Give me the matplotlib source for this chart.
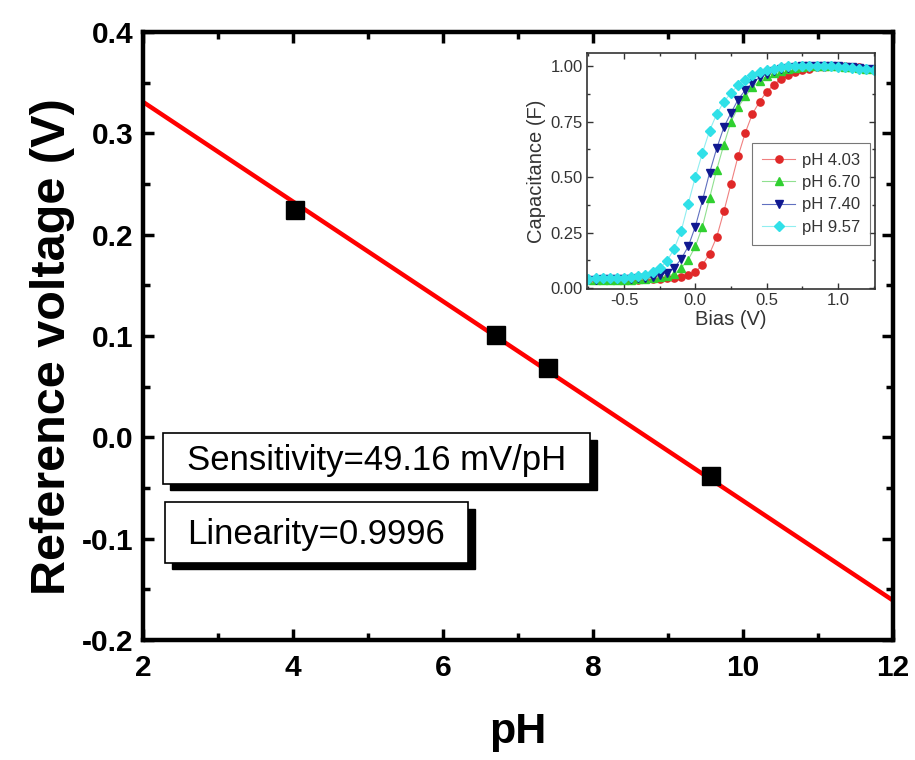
import matplotlib
matplotlib.use("Agg")
import matplotlib.pyplot as plt
from matplotlib.patches import Rectangle
from matplotlib.ticker import MultipleLocator, FormatStrFormatter

plt.rcParams['font.family'] = ['Liberation Sans', 'DejaVu Sans']
plt.rcParams['axes.unicode_minus'] = False

# ---- main data ----
ph_values = [4.03, 6.70, 7.40, 9.57]
ref_voltage = [0.224, 0.101, 0.068, -0.038]
fit_ph = [2.0, 12.0]
fit_voltage = [0.331, -0.161]

# ---- inset data ----
bias = [-0.75, -0.70, -0.65, -0.60, -0.55, -0.50, -0.45, -0.40, -0.35, -0.30,
        -0.25, -0.20, -0.15, -0.10, -0.05, 0.00, 0.05, 0.10, 0.15, 0.20,
        0.25, 0.30, 0.35, 0.40, 0.45, 0.50, 0.55, 0.60, 0.65, 0.70,
        0.75, 0.80, 0.85, 0.90, 0.95, 1.00, 1.05, 1.10, 1.15, 1.20, 1.25]
cap_403 = [0.035, 0.035, 0.036, 0.036, 0.037, 0.037, 0.038, 0.038, 0.039, 0.040,
           0.041, 0.043, 0.046, 0.050, 0.058, 0.072, 0.104, 0.155, 0.230, 0.345,
           0.470, 0.595, 0.700, 0.785, 0.840, 0.885, 0.917, 0.943, 0.962, 0.975,
           0.985, 0.990, 0.995, 0.998, 1.000, 1.000, 1.000, 0.998, 0.995, 0.990, 0.985]
cap_670 = [0.035, 0.035, 0.036, 0.036, 0.037, 0.037, 0.038, 0.039, 0.040, 0.043,
           0.048, 0.055, 0.062, 0.090, 0.127, 0.187, 0.277, 0.406, 0.534, 0.647,
           0.750, 0.815, 0.865, 0.905, 0.935, 0.955, 0.970, 0.980, 0.988, 0.993,
           0.997, 1.000, 1.000, 1.000, 1.000, 1.000, 0.998, 0.996, 0.993, 0.990, 0.987]
cap_740 = [0.038, 0.038, 0.039, 0.039, 0.040, 0.040, 0.041, 0.043, 0.045, 0.050,
           0.057, 0.068, 0.090, 0.130, 0.187, 0.277, 0.395, 0.520, 0.630, 0.725,
           0.790, 0.850, 0.893, 0.925, 0.950, 0.966, 0.978, 0.987, 0.993, 0.997,
           1.000, 1.000, 1.000, 1.000, 1.000, 1.000, 0.998, 0.996, 0.993, 0.990, 0.987]
cap_957 = [0.042, 0.043, 0.044, 0.045, 0.046, 0.047, 0.049, 0.052, 0.060, 0.072,
           0.090, 0.120, 0.175, 0.255, 0.380, 0.500, 0.610, 0.710, 0.785, 0.840,
           0.880, 0.915, 0.940, 0.960, 0.975, 0.985, 0.990, 0.995, 1.000, 1.000,
           1.000, 1.000, 1.000, 1.000, 1.000, 0.998, 0.996, 0.993, 0.990, 0.987, 0.985]
inset_labels = ['pH 4.03', 'pH 6.70', 'pH 7.40', 'pH 9.57']

fig = plt.figure(figsize=(9.15, 7.6), dpi=100)
ax = fig.add_axes([0.1563, 0.1579, 0.8197, 0.80])

ax.plot(fit_ph, fit_voltage, color='#ff0000', lw=3.2, zorder=2)
ax.plot(ph_values, ref_voltage, 's', color='black', ms=12.5, zorder=3)

ax.set_xlim(2, 12)
ax.set_ylim(-0.2, 0.4)
ax.xaxis.set_major_locator(MultipleLocator(2))
ax.xaxis.set_minor_locator(MultipleLocator(1))
ax.yaxis.set_major_locator(MultipleLocator(0.1))
ax.yaxis.set_minor_locator(MultipleLocator(0.05))
ax.yaxis.set_major_formatter(FormatStrFormatter('%.1f'))
ax.tick_params(which='both', direction='in', top=True, right=True, width=2.5)
ax.tick_params(which='major', length=8, labelsize=21.5)
ax.tick_params(axis='x', which='major', pad=10)
ax.tick_params(axis='y', which='major', pad=7)
ax.tick_params(which='minor', length=5)
for lab in ax.get_xticklabels() + ax.get_yticklabels():
    lab.set_fontweight('bold')
for sp in ax.spines.values():
    sp.set_linewidth(3.2)
ax.set_xlabel('pH', fontsize=31, fontweight='bold')
ax.set_ylabel('Reference voltage (V)', fontsize=35, fontweight='bold')
ax.xaxis.set_label_coords(0.5, -0.118)
ax.yaxis.set_label_coords(-0.091, 0.483)

# annotation boxes with shadows
def shadow_box(x0, y0, x1, y1, dx, dy, text, fs):
    ax.add_patch(Rectangle((x0 + dx, y0 - dy), x1 - x0, y1 - y0, transform=ax.transAxes,
                           facecolor='black', edgecolor='black', lw=1, zorder=4))
    ax.add_patch(Rectangle((x0, y0), x1 - x0, y1 - y0, transform=ax.transAxes,
                           facecolor='white', edgecolor='black', lw=1.2, zorder=5))
    ax.text((x0 + x1) / 2, (y0 + y1) / 2 - 0.004, text, transform=ax.transAxes,
            ha='center', va='center', fontsize=fs, zorder=6)

shadow_box(0.027, 0.257, 0.596, 0.340, 0.009, 0.011, 'Sensitivity=49.16 mV/pH', 25)
shadow_box(0.029, 0.127, 0.433, 0.227, 0.009, 0.011, 'Linearity=0.9996', 25)

# ---- inset ----
ins = fig.add_axes([0.6415, 0.6197, 0.3148, 0.3105])
styles = [('#e02828', 'o', '#f08080'), ('#30d030', '^', '#90e090'),
          ('#101890', 'v', '#6070c0'), ('#30e0e8', 'D', '#90eef0')]
for ys, lab, (c, m, lc) in zip([cap_403, cap_670, cap_740, cap_957], inset_labels, styles):
    ins.plot(bias, ys, '-', color=lc, lw=0.8, marker=m, ms=5.2,
             markerfacecolor=c, markeredgecolor=c, label=lab)
ins.set_xlim(-0.76, 1.26)
ins.set_ylim(-0.005, 1.06)
ins.xaxis.set_major_locator(MultipleLocator(0.5))
ins.xaxis.set_minor_locator(MultipleLocator(0.25))
ins.yaxis.set_major_locator(MultipleLocator(0.25))
ins.yaxis.set_minor_locator(MultipleLocator(0.125))
ins.yaxis.set_major_formatter(FormatStrFormatter('%.2f'))
ins.tick_params(which='both', direction='in', top=True, right=True, width=1,
                colors='#333333', labelcolor='#333333')
ins.tick_params(which='major', length=4, labelsize=12, pad=3)
ins.tick_params(which='minor', length=2.5)
for sp in ins.spines.values():
    sp.set_linewidth(1.2)
    sp.set_color('#333333')
ins.set_xlabel('Bias (V)', fontsize=14.5, color='#333333', labelpad=1)
ins.set_ylabel('Capacitance (F)', fontsize=14.5, color='#333333', labelpad=3)
leg = ins.legend(loc='upper left', bbox_to_anchor=(0.573, 0.62), fontsize=12,
                 frameon=True, fancybox=False, handlelength=2.0, borderpad=0.6,
                 labelspacing=0.44, handletextpad=0.4, borderaxespad=0)
leg.get_frame().set_edgecolor('#555555')
leg.get_frame().set_linewidth(0.8)
for t in leg.get_texts():
    t.set_color('#333333')

fig.savefig('out.png', dpi=100)
